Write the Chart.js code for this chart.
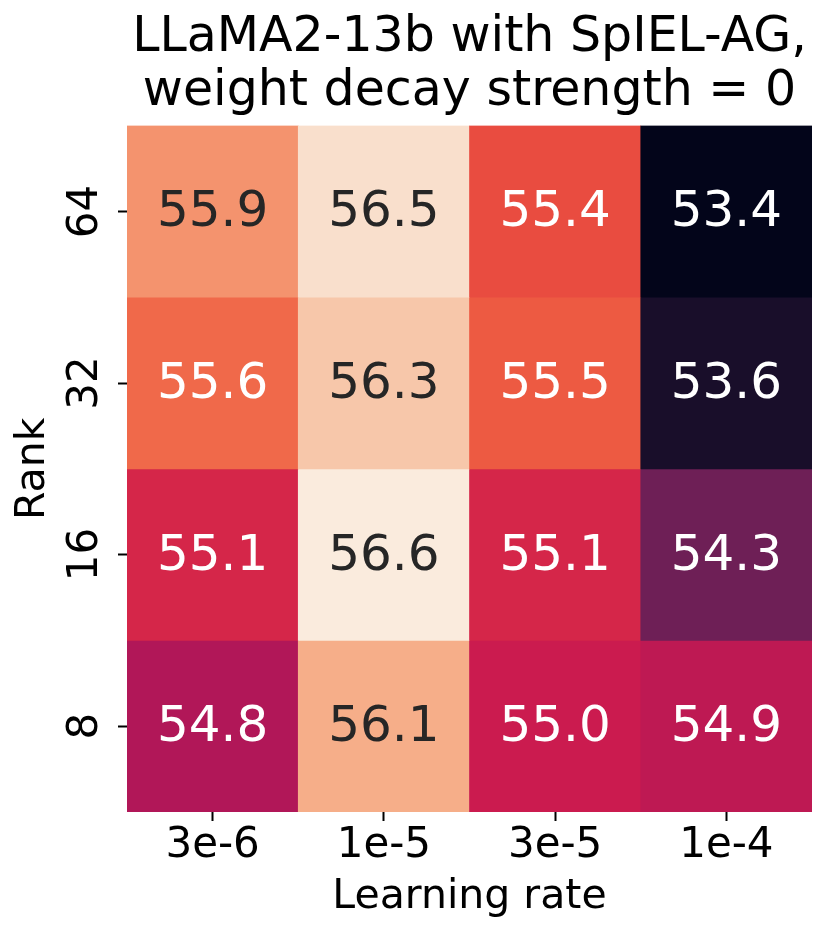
<!DOCTYPE html>
<html>
<head>
<meta charset="utf-8">
<script src="https://cdn.jsdelivr.net/npm/chart.js@4.4.0/dist/chart.umd.min.js"></script>
<style>
  html, body { margin: 0; padding: 0; background: #fff; }
  #wrap { width: 832px; height: 939px; }
</style>
</head>
<body>
<div id="wrap"><canvas id="heat"></canvas></div>
<script>
// ── Data ────────────────────────────────────────────────────────────────────
var learningRates = ['3e-6', '1e-5', '3e-5', '1e-4'];
var ranks = ['64', '32', '16', '8'];            // top row first
var acc64 = [55.9, 56.5, 55.4, 53.4];
var acc32 = [55.6, 56.3, 55.5, 53.6];
var acc16 = [55.1, 56.6, 55.1, 54.3];
var acc8  = [54.8, 56.1, 55.0, 54.9];
var rows  = [acc64, acc32, acc16, acc8];

// ── Colour map (seaborn "rocket", approximated by stops) ────────────────────
var ROCKET = [
  [0.000, [3, 5, 26]],
  [0.143, [53, 25, 62]],
  [0.286, [112, 31, 87]],
  [0.429, [173, 23, 89]],
  [0.500, [203, 27, 79]],
  [0.571, [225, 51, 66]],
  [0.643, [236, 84, 63]],
  [0.714, [243, 118, 81]],
  [0.857, [246, 180, 143]],
  [1.000, [250, 235, 221]]
];
var FONT = 'DejaVu Sans';

var all = [].concat.apply([], rows);
var vmin = Math.min.apply(null, all);
var vmax = Math.max.apply(null, all);

function rocket(t) {
  t = Math.max(0, Math.min(1, t));
  for (var i = 1; i < ROCKET.length; i++) {
    if (t <= ROCKET[i][0]) {
      var a = ROCKET[i - 1], b = ROCKET[i];
      var f = (t - a[0]) / (b[0] - a[0]);
      return a[1].map(function (c, k) { return Math.round(c + f * (b[1][k] - c)); });
    }
  }
  return ROCKET[ROCKET.length - 1][1];
}
function cellRgb(v) { return rocket((v - vmin) / (vmax - vmin)); }
function rgbStr(c) { return 'rgb(' + c[0] + ',' + c[1] + ',' + c[2] + ')'; }
function luminance(c) {
  var l = c.map(function (x) {
    x = x / 255;
    return x <= 0.03928 ? x / 12.92 : Math.pow((x + 0.055) / 1.055, 2.4);
  });
  return 0.2126 * l[0] + 0.7152 * l[1] + 0.0722 * l[2];
}

// ── One floating-bar dataset per row ────────────────────────────────────────
var datasets = rows.map(function (vals, i) {
  var lo = rows.length - 1 - i;
  return {
    label: ranks[i],
    data: vals.map(function () { return [lo, lo + 1]; }),
    values: vals,
    backgroundColor: vals.map(function (v) { return rgbStr(cellRgb(v)); }),
    borderWidth: 0,
    barPercentage: 1,
    categoryPercentage: 1,
    grouped: false
  };
});

// ── Cell annotations ────────────────────────────────────────────────────────
var annotate = {
  id: 'annotate',
  afterDatasetsDraw: function (chart) {
    var ctx = chart.ctx;
    ctx.save();
    ctx.font = '50px "' + FONT + '"';
    ctx.textAlign = 'center';
    ctx.textBaseline = 'alphabetic';
    chart.data.datasets.forEach(function (ds, di) {
      chart.getDatasetMeta(di).data.forEach(function (bar, j) {
        var v = ds.values[j];
        var cy = (bar.y + bar.base) / 2;
        ctx.fillStyle = luminance(cellRgb(v)) > 0.408 ? '#262626' : '#ffffff';
        ctx.fillText(v.toFixed(1), bar.x, cy + 15);
      });
    });
    ctx.restore();
  }
};

new Chart(document.getElementById('heat'), {
  type: 'bar',
  data: { labels: learningRates, datasets: datasets },
  options: {
    responsive: true,
    maintainAspectRatio: false,
    animation: false,
    layout: { padding: { left: 0, right: 20, top: 0, bottom: 0 } },
    plugins: {
      legend: { display: false },
      tooltip: { enabled: false },
      title: {
        display: true,
        fullSize: false,
        text: ['LLaMA2-13b with SpIEL-AG,', 'weight decay strength = 0'],
        color: '#000',
        font: { family: FONT, size: 49, weight: 'normal', lineHeight: 1.088 },
        padding: { top: 12, bottom: 7 }
      }
    },
    scales: {
      x: {
        type: 'category',
        offset: true,
        afterFit: function (s) { s.height = 127; },
        ticks: {
          color: '#000',
          padding: 0,
          maxRotation: 0,
          minRotation: 0,
          font: { family: FONT, size: 42 }
        },
        grid: { offset: false, drawOnChartArea: false, tickLength: 9, tickWidth: 2, tickColor: '#000' },
        border: { display: false },
        title: {
          display: true,
          text: 'Learning rate',
          color: '#000',
          font: { family: FONT, size: 41 },
          padding: { top: 0, bottom: 17 }
        }
      },
      y: {
        type: 'linear',
        min: 0,
        max: rows.length,
        afterBuildTicks: function (s) {
          s.ticks = ranks.map(function (r, i) { return { value: rows.length - 0.5 - i }; });
        },
        afterFit: function (s) { s.width = 127; },
        ticks: {
          color: '#000',
          padding: 5,
          minRotation: 90,
          maxRotation: 90,
          crossAlign: 'center',
          font: { family: FONT, size: 42 },
          callback: function (v) { return ranks[Math.round(rows.length - 0.5 - v)]; }
        },
        grid: { drawOnChartArea: false, tickLength: 9, tickWidth: 2, tickColor: '#000' },
        border: { display: false },
        title: {
          display: true,
          text: 'Rank',
          color: '#000',
          font: { family: FONT, size: 41 },
          padding: { top: 9, bottom: 0 }
        }
      }
    }
  },
  plugins: [annotate]
});
</script>
</body>
</html>
